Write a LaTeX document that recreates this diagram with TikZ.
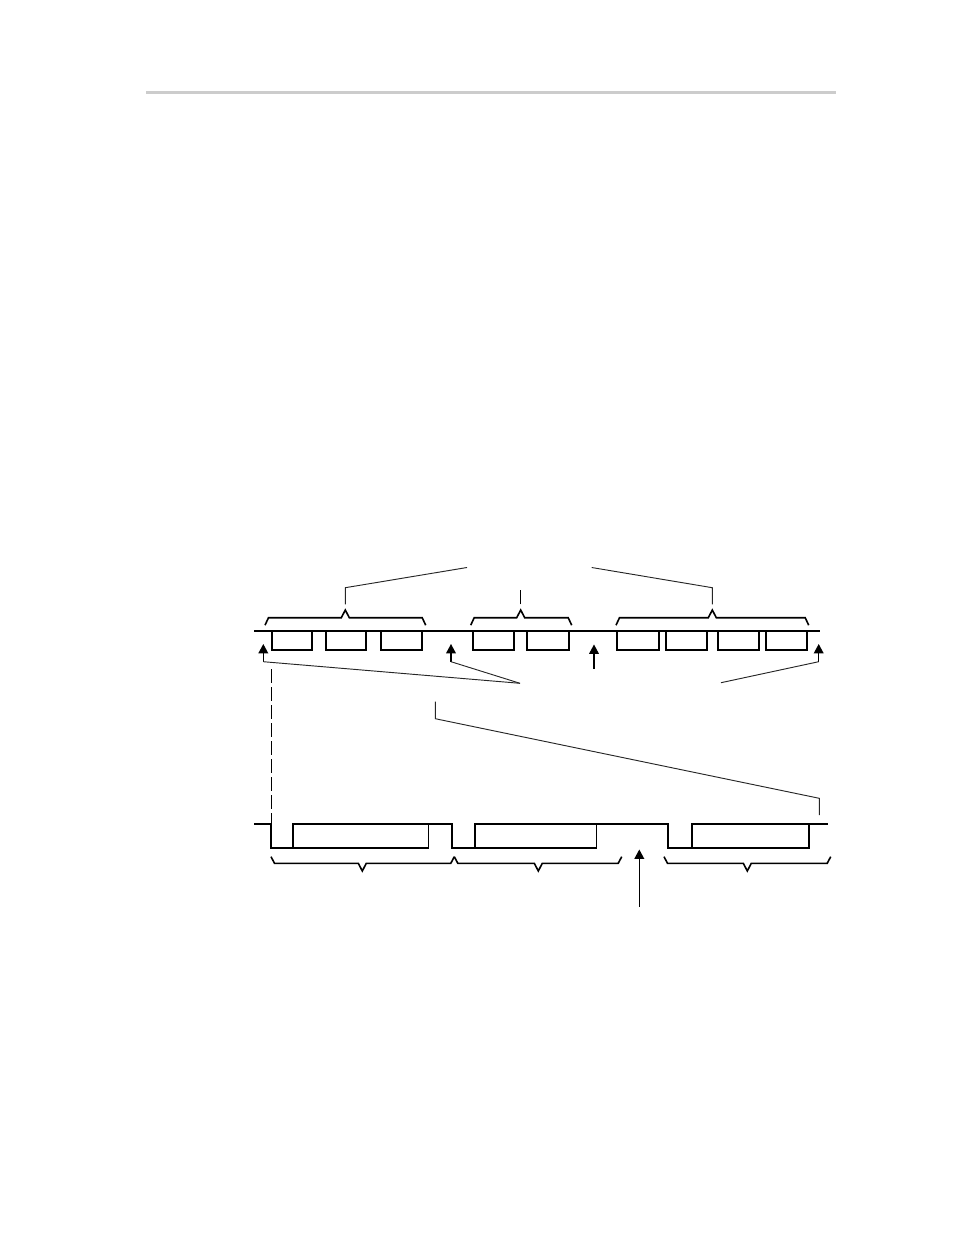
\documentclass[tikz,border=0pt]{standalone}
\usetikzlibrary{calc}
\tikzset{
  thick line/.style={line width=1.5pt, line join=miter},
  thin line/.style={line width=0.7pt, black!85},
  brace/.style={line width=1.2pt, line join=miter},
  edge thin/.style={line width=1.0pt},
  stem/.style={line width=0.9pt},
  tipfill/.style={fill=black, draw=none},
  dashline/.style={line width=0.9pt, dash pattern=on 10.5pt off 3pt},
  rule/.style={line width=2.3pt, black!20}
}
\newcommand\upbrace[4]{% x1, tip x, x2, y
  \draw[brace] (#1,#4+7.5) -- (#1+3.5,#4) -- (#2-4,#4) -- (#2,#4-7.7) -- (#2+4,#4) -- (#3-3.5,#4) -- (#3,#4+7.5);}
\newcommand\downbrace[4]{% x1, tip x, x2, y
  \draw[brace] (#1,#4-6.6) -- (#1+3.5,#4) -- (#2-4,#4) -- (#2,#4+7.7) -- (#2+4,#4) -- (#3-3.5,#4) -- (#3,#4-6.6);}
\newcommand\uparrowtip[2]{% x, tip y
  \fill[tipfill] (#1,#2-0.5) -- (#1-5,#2+8.8) -- (#1+5,#2+8.8) -- cycle;}
\begin{document}
\begin{tikzpicture}[x=0.75pt,y=-0.75pt]
\useasboundingbox (0,0) rectangle (954,1235);

% header rule
\draw[rule] (146,92.5) -- (836,92.5);

% ---------- top timeline ----------
\coordinate (tl0) at (254,631);
\coordinate (tl1) at (820,631);
\draw[thick line] (tl0) -- (tl1);
\foreach \a/\b in {271.7/311.7, 325.7/366, 380.7/422, 473.3/514, 527.3/568.7, 617.3/658.7, 665.7/706.7, 717.7/759.3, 765.7/807.3}
  \draw[thick line] (\a,631) -- (\a,650) -- (\b,650) -- (\b,631);

% braces above
\upbrace{265}{345.3}{425.7}{617.7}
\upbrace{470.7}{520.7}{571.7}{617.7}
\upbrace{616}{712.3}{808.7}{617.7}

% leader lines from braces
\coordinate (lblA) at (467,567.5);
\coordinate (lblB) at (591.7,567.5);
\coordinate (b1top) at (345.3,587.7);
\coordinate (b3top) at (712.3,587.7);
\draw[thin line] (345.3,604.3) -- (b1top) -- (lblA);
\draw[thin line] (712.3,604.3) -- (b3top) -- (lblB);
\draw[line width=0.9pt] (520.7,604.3) -- (520.7,590);

% arrows below the top timeline
\coordinate (a1) at (263.3,661.7);
\coordinate (a2) at (451,661.7);
\coordinate (a4) at (818.7,661.7);
\coordinate (m1) at (520,683.3);
\coordinate (m2) at (721,682.7);
\uparrowtip{263.3}{644.5}
\uparrowtip{451}{644.5}
\uparrowtip{594}{645}
\uparrowtip{818.7}{644.5}
\draw[stem] (263.3,652) -- (a1);
\draw[stem] (451,652) -- (a2);
\draw[stem] (818.7,652) -- (a4);
\draw[stem] (594,652) -- (594,669.3);
\draw[thin line] (a1) -- (m1);
\draw[thin line] (a2) -- (m1);
\draw[thin line] (a4) -- (m2);

% zoom leader line
\coordinate (z0) at (435.3,701.7);
\coordinate (z1) at (435.3,718.7);
\coordinate (z2) at (819.3,798.3);
\coordinate (z3) at (819.3,815);
\draw[thin line] (z0) -- (z1) -- (z2) -- (z3);

% dashed line
\draw[dashline] (271.5,669.3) -- (271.5,824);

% ---------- bottom waveform ----------
\draw[thick line] (254,824) -- (271,824) -- (271,847.7) -- (293.3,847.7) -- (293.3,824)
  -- (452,824) -- (452,847.7) -- (475,847.7) -- (475,824)
  -- (668.3,824) -- (668.3,847.7) -- (691.7,847.7) -- (691.7,824) -- (828.3,824);
\draw[thick line] (293.3,847.7) -- (428.5,847.7);
\draw[edge thin] (428.5,847.7) -- (428.5,824);
\draw[thick line] (475,847.7) -- (596.5,847.7);
\draw[line width=1.2pt] (596.5,847.7) -- (596.5,824);
\draw[thick line] (691.7,847.7) -- (809.3,847.7) -- (809.3,824);

% braces below
\downbrace{271}{362.3}{454.3}{863.3}
\downbrace{454.3}{538.3}{621.7}{863.3}
\downbrace{664}{747.3}{830.7}{863.3}

% bottom arrow
\uparrowtip{639.3}{850}
\draw[stem] (639.3,857.5) -- (639.3,907.3);
\end{tikzpicture}
\end{document}
